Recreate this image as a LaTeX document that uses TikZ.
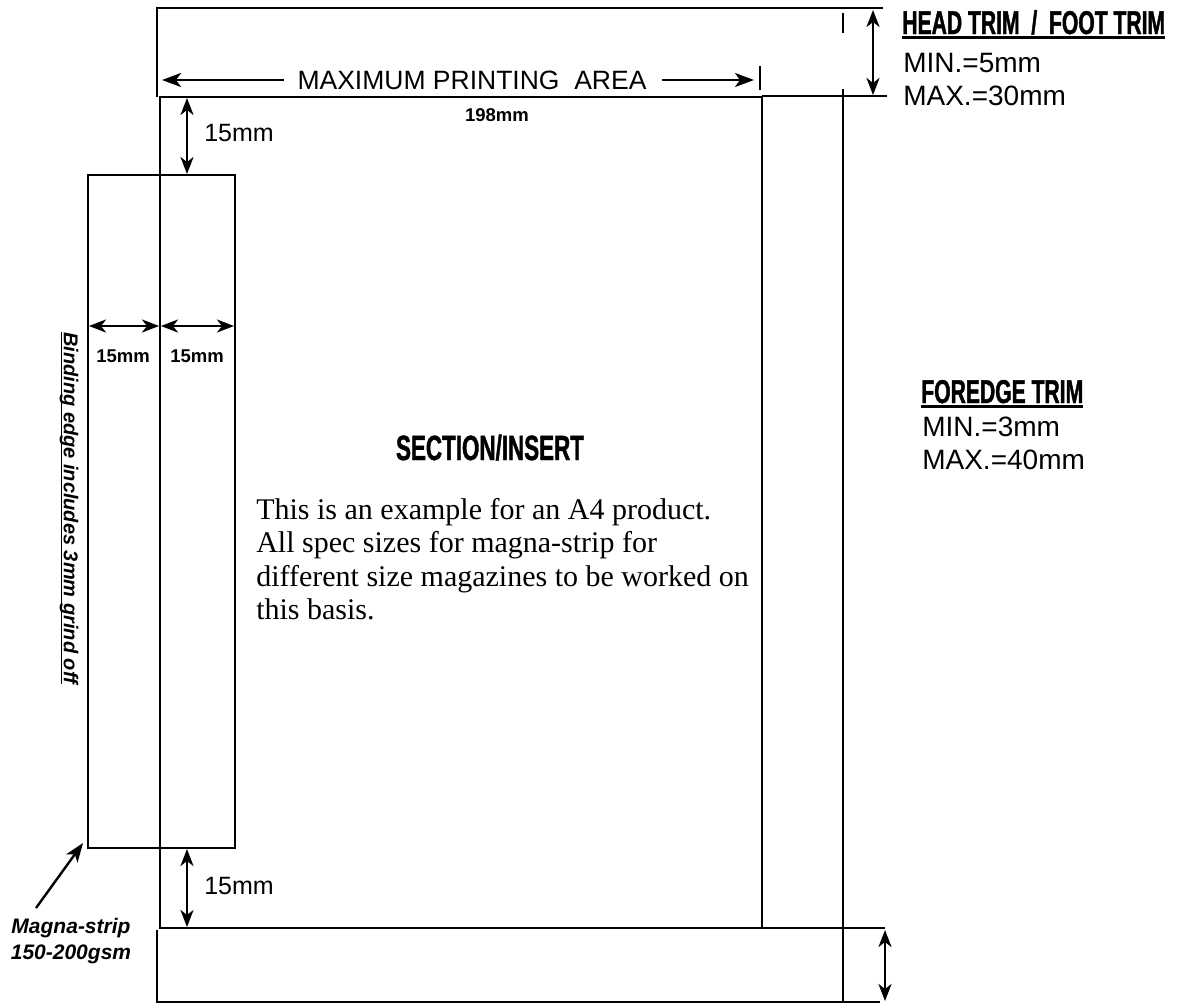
\documentclass[tikz,border=0pt]{standalone}
\usepackage{fontspec}
\setmainfont{Liberation Sans}
\newfontfamily\bookfont{Liberation Serif}
\newfontfamily\blockfont[FakeStretch=0.64,FakeBold=1.2]{Liberation Sans}
\usetikzlibrary{arrows.meta}

% underline with a rule of chosen depth and thickness
\newsavebox\ulbox
\newcommand\ulthick[3]{\sbox\ulbox{#3}\rlap{\rule[-#1]{\wd\ulbox}{#2}}\usebox\ulbox}

\begin{document}
\begin{tikzpicture}[x=1pt,y=-1pt,line width=2.6pt,
  every node/.style={inner sep=0pt},
  dimarrow/.style={{Stealth[length=17pt,width=13pt,inset=5pt]}-{Stealth[length=17pt,width=13pt,inset=5pt]},line width=2.4pt},
  onearrow/.style={-{Stealth[length=19pt,width=14pt,inset=5pt]},line width=2.4pt},
  plain/.style={font=\fontsize{26.5}{30}\selectfont},
  gaplabel/.style={font=\fontsize{25}{28}\selectfont,anchor=west},
  smallbold/.style={font=\fontsize{18.5}{20}\selectfont\bfseries},
  striplabel/.style={font=\fontsize{21}{24}\selectfont\bfseries\itshape,anchor=base},
  trimhead/.style={font=\fontsize{33}{36}\selectfont\blockfont\bfseries,anchor=base west},
  trimvalue/.style={font=\fontsize{28}{32}\selectfont,anchor=base west}]
  \useasboundingbox (0,0) rectangle (1178,1005);

  % page with head and foot trim
  \draw (157,97) -- (157,8) -- (883,8);
  \draw (762,96) -- (887,96);
  \draw (843,13) -- (843,33);
  \draw (843,89) -- (843,1002);
  \draw (762,928) -- (885,928);
  \draw (157,930) -- (157,1002) -- (880,1002);
  % printing area and magna-strip
  \draw (160,97) rectangle (762,928);
  \draw (88,175) rectangle (235,848);

  % maximum printing area
  \node[plain] (area) at (472,80) {MAXIMUM PRINTING\ \ AREA};
  \coordinate (area-l) at (162,80);
  \coordinate (area-r) at (754,80);
  \draw[onearrow] ([xshift=-12pt]area.west) -- (area-l);
  \draw[onearrow] ([xshift=14pt]area.east) -- (area-r);
  \draw (760,66) -- (760,90);
  \node[smallbold] (width) at (497,115) {198mm};

  % gaps round the strip
  \coordinate (gap-t1) at (187,98);
  \coordinate (gap-t2) at (187,174);
  \draw[dimarrow] (gap-t1) -- (gap-t2);
  \node[gaplabel] (gap-top) at (203,133) {15mm};
  \coordinate (gap-b1) at (187,849);
  \coordinate (gap-b2) at (187,927);
  \draw[dimarrow] (gap-b1) -- (gap-b2);
  \node[gaplabel] (gap-bottom) at (203,886) {15mm};

  \draw[dimarrow] (89,326) -- (159,326);
  \draw[dimarrow] (161,326) -- (234,326);
  \node[smallbold] (strip-out) at (123,356) {15mm};
  \node[smallbold] (strip-in) at (197,356) {15mm};

  % strip notes
  \node[rotate=-90,font=\fontsize{20}{22}\selectfont\bfseries\itshape] (binding) at (69,508)
    {\ulthick{3pt}{1.6pt}{Binding edge includes 3mm grind off}};
  \node[striplabel] (magna) at (71,933) {Magna-strip};
  \node[striplabel] (gsm) at (71,959) {150-200gsm};
  \coordinate (strip-tail) at (36,908);
  \coordinate (strip-corner) at (83,843);
  \draw[onearrow] (strip-tail) -- (strip-corner);

  % trims
  \draw[dimarrow] (873,10) -- (873,95);
  \node[trimhead] (headtrim) at (901,34) {\ulthick{5pt}{2.6pt}{HEAD TRIM \ / \ FOOT TRIM}};
  \node[trimvalue] (headmin) at (902,72) {MIN.=5mm};
  \node[trimvalue] (headmax) at (902,105) {MAX.=30mm};

  \node[trimhead] (foretrim) at (920,403) {\ulthick{5pt}{2.6pt}{FOREDGE TRIM}};
  \node[trimvalue] (foremin) at (921,436) {MIN.=3mm};
  \node[trimvalue] (foremax) at (921,469) {MAX.=40mm};
  \draw[dimarrow] (885,930) -- (885,1001);

  % section text
  \node[font=\fontsize{35}{36}\selectfont\blockfont\bfseries,anchor=base] (section) at (490,460) {SECTION/INSERT};
  \node[font=\fontsize{30}{33.3}\selectfont\bookfont,align=left,anchor=north west] (note) at (255,497)
    {This is an example for an A4 product.\\All spec sizes for magna-strip for\\different size magazines to be worked on\\this basis.};
\end{tikzpicture}
\end{document}
